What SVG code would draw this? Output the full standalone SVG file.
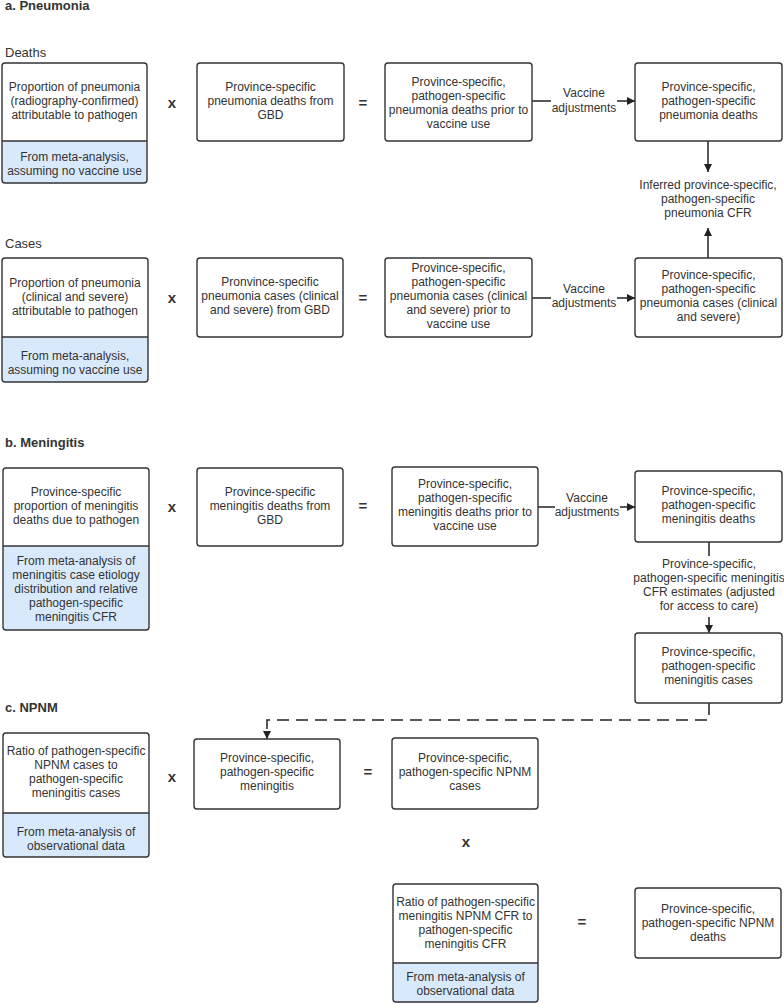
<svg xmlns="http://www.w3.org/2000/svg" width="784" height="1004" viewBox="0 0 784 1004">
<style>
text{font-family:"Liberation Sans",Arial,sans-serif;fill:#333}
.t{font-size:12px;text-anchor:middle}
.h{font-size:13px;font-weight:bold}
.s{font-size:13px}
.op{font-size:15px;font-weight:bold;text-anchor:middle}
.box{fill:#fff;stroke:#333;stroke-width:1.4}
.bg{fill:#fff}
.frame{fill:none;stroke:#333;stroke-width:1.4}
.blue{fill:#d9e9fc}
.div{stroke:#333;stroke-width:1.4}
.c{fill:none;stroke:#222;stroke-width:1.5}
.dash{stroke-dasharray:12 7}
</style>
<defs>
<marker id="ah" viewBox="0 0 10 10" refX="10" refY="5" markerWidth="9" markerHeight="8" markerUnits="userSpaceOnUse" orient="auto">
<path d="M0,0 L10,5 L0,10 z" fill="#222"/>
</marker>
</defs>
<rect width="784" height="1004" fill="#fff"/>

<text class="h" x="5" y="10">a. Pneumonia</text>
<text class="s" x="5" y="57">Deaths</text>
<text class="s" x="5" y="248">Cases</text>
<text class="h" x="5" y="447">b. Meningitis</text>
<text class="h" x="5" y="712">c. NPNM</text>

<g id="connectors">
<path class="c" d="M532,101 H551"/>
<path class="c" d="M617,101 H635" marker-end="url(#ah)"/>
<text class="t"><tspan x="584" y="97">Vaccine</tspan><tspan x="584" y="112">adjustments</tspan></text>
<path class="c" d="M708,141 V172" marker-end="url(#ah)"/>
<text class="t"><tspan x="708" y="189">Inferred province-specific,</tspan><tspan x="708" y="203">pathogen-specific</tspan><tspan x="708" y="217">pneumonia CFR</tspan></text>
<path class="c" d="M708,258 V228" marker-end="url(#ah)"/>
<path class="c" d="M532,298 H551"/>
<path class="c" d="M617,298 H635" marker-end="url(#ah)"/>
<text class="t"><tspan x="584" y="293">Vaccine</tspan><tspan x="584" y="307">adjustments</tspan></text>
<path class="c" d="M538,507 H555"/>
<path class="c" d="M620,507 H635" marker-end="url(#ah)"/>
<text class="t"><tspan x="587" y="502">Vaccine</tspan><tspan x="587" y="516">adjustments</tspan></text>
<path class="c" d="M709,542 V556"/>
<text class="t"><tspan x="709" y="568">Province-specific,</tspan><tspan x="709" y="582">pathogen-specific meningitis</tspan><tspan x="709" y="596">CFR estimates (adjusted</tspan><tspan x="709" y="610">for access to care)</tspan></text>
<path class="c" d="M709,617 V633" marker-end="url(#ah)"/>
<path class="c dash" d="M709,703 V720 H267 V739" marker-end="url(#ah)"/>
</g>

<g id="n1">
<rect class="bg" x="2" y="63" width="145" height="120" rx="3"/>
<path class="blue" d="M2,141 H147 V180 a3,3 0 0 1 -3,3 H5 a3,3 0 0 1 -3,-3 Z"/>
<line class="div" x1="2" y1="141" x2="147" y2="141"/>
<rect class="frame" x="2" y="63" width="145" height="120" rx="3"/>
<text class="t"><tspan x="74.5" y="91">Proportion of pneumonia</tspan><tspan x="74.5" y="105">(radiography-confirmed)</tspan><tspan x="74.5" y="119">attributable to pathogen</tspan></text>
<text class="t"><tspan x="74.5" y="161">From meta-analysis,</tspan><tspan x="74.5" y="175">assuming no vaccine use</tspan></text>
</g>
<text class="op" x="172" y="108">x</text>
<g id="n2">
<rect class="box" x="197" y="63" width="147" height="78" rx="3"/>
<text class="t"><tspan x="270.5" y="91">Province-specific</tspan><tspan x="270.5" y="105">pneumonia deaths from</tspan><tspan x="270.5" y="119">GBD</tspan></text>
</g>
<text class="op" x="363" y="108">=</text>
<g id="n3">
<rect class="box" x="385" y="63" width="147" height="78" rx="3"/>
<text class="t"><tspan x="458.5" y="86">Province-specific,</tspan><tspan x="458.5" y="100">pathogen-specific</tspan><tspan x="458.5" y="114">pneumonia deaths prior to</tspan><tspan x="458.5" y="128">vaccine use</tspan></text>
</g>
<g id="n4">
<rect class="box" x="635" y="63" width="147" height="78" rx="3"/>
<text class="t"><tspan x="708.5" y="91">Province-specific,</tspan><tspan x="708.5" y="105">pathogen-specific</tspan><tspan x="708.5" y="119">pneumonia deaths</tspan></text>
</g>

<g id="n5">
<rect class="bg" x="2" y="258" width="146" height="124" rx="3"/>
<path class="blue" d="M2,337 H148 V379 a3,3 0 0 1 -3,3 H5 a3,3 0 0 1 -3,-3 Z"/>
<line class="div" x1="2" y1="337" x2="148" y2="337"/>
<rect class="frame" x="2" y="258" width="146" height="124" rx="3"/>
<text class="t"><tspan x="75" y="287">Proportion of pneumonia</tspan><tspan x="75" y="301">(clinical and severe)</tspan><tspan x="75" y="315">attributable to pathogen</tspan></text>
<text class="t"><tspan x="75" y="360">From meta-analysis,</tspan><tspan x="75" y="374">assuming no vaccine use</tspan></text>
</g>
<text class="op" x="172" y="303">x</text>
<g id="n6">
<rect class="box" x="197" y="258" width="146" height="79" rx="3"/>
<text class="t"><tspan x="270" y="286">Pronvince-specific</tspan><tspan x="270" y="300">pneumonia cases (clinical</tspan><tspan x="270" y="314">and severe) from GBD</tspan></text>
</g>
<text class="op" x="363" y="303">=</text>
<g id="n7">
<rect class="box" x="385" y="258" width="147" height="79" rx="3"/>
<text class="t"><tspan x="458.5" y="272">Province-specific,</tspan><tspan x="458.5" y="286">pathogen-specific</tspan><tspan x="458.5" y="300">pneumonia cases (clinical</tspan><tspan x="458.5" y="314">and severe) prior to</tspan><tspan x="458.5" y="328">vaccine use</tspan></text>
</g>
<g id="n8">
<rect class="box" x="635" y="258" width="147" height="79" rx="3"/>
<text class="t"><tspan x="708.5" y="279">Province-specific,</tspan><tspan x="708.5" y="293">pathogen-specific</tspan><tspan x="708.5" y="307">pneumonia cases (clinical</tspan><tspan x="708.5" y="321">and severe)</tspan></text>
</g>

<g id="n9">
<rect class="bg" x="3" y="468" width="146" height="162" rx="3"/>
<path class="blue" d="M3,546 H149 V627 a3,3 0 0 1 -3,3 H6 a3,3 0 0 1 -3,-3 Z"/>
<line class="div" x1="3" y1="546" x2="149" y2="546"/>
<rect class="frame" x="3" y="468" width="146" height="162" rx="3"/>
<text class="t"><tspan x="76" y="496">Province-specific</tspan><tspan x="76" y="510">proportion of meningitis</tspan><tspan x="76" y="524">deaths due to pathogen</tspan></text>
<text class="t"><tspan x="76" y="565">From meta-analysis of</tspan><tspan x="76" y="579">meningitis case etiology</tspan><tspan x="76" y="593">distribution and relative</tspan><tspan x="76" y="607">pathogen-specific</tspan><tspan x="76" y="621">meningitis CFR</tspan></text>
</g>
<text class="op" x="172" y="512">x</text>
<g id="n10">
<rect class="box" x="197" y="468" width="146" height="78" rx="3"/>
<text class="t"><tspan x="270" y="496">Province-specific</tspan><tspan x="270" y="510">meningitis deaths from</tspan><tspan x="270" y="524">GBD</tspan></text>
</g>
<text class="op" x="363" y="511">=</text>
<g id="n11">
<rect class="box" x="392" y="467" width="146" height="79" rx="3"/>
<text class="t"><tspan x="465" y="488">Province-specific,</tspan><tspan x="465" y="502">pathogen-specific</tspan><tspan x="465" y="516">meningitis deaths prior to</tspan><tspan x="465" y="530">vaccine use</tspan></text>
</g>
<g id="n12">
<rect class="box" x="635" y="471" width="147" height="71" rx="3"/>
<text class="t"><tspan x="708.5" y="495">Province-specific,</tspan><tspan x="708.5" y="509">pathogen-specific</tspan><tspan x="708.5" y="523">meningitis deaths</tspan></text>
</g>
<g id="n13">
<rect class="box" x="635" y="633" width="147" height="70" rx="3"/>
<text class="t"><tspan x="708.5" y="656">Province-specific,</tspan><tspan x="708.5" y="670">pathogen-specific</tspan><tspan x="708.5" y="684">meningitis cases</tspan></text>
</g>

<g id="n14">
<rect class="bg" x="3" y="733" width="146" height="124" rx="3"/>
<path class="blue" d="M3,813 H149 V854 a3,3 0 0 1 -3,3 H6 a3,3 0 0 1 -3,-3 Z"/>
<line class="div" x1="3" y1="813" x2="149" y2="813"/>
<rect class="frame" x="3" y="733" width="146" height="124" rx="3"/>
<text class="t"><tspan x="76" y="755">Ratio of pathogen-specific</tspan><tspan x="76" y="769">NPNM cases to</tspan><tspan x="76" y="783">pathogen-specific</tspan><tspan x="76" y="797">meningitis cases</tspan></text>
<text class="t"><tspan x="76" y="836">From meta-analysis of</tspan><tspan x="76" y="850">observational data</tspan></text>
</g>
<text class="op" x="172" y="782">x</text>
<g id="n15">
<rect class="box" x="194" y="739" width="146" height="70" rx="3"/>
<text class="t"><tspan x="267" y="762">Province-specific,</tspan><tspan x="267" y="776">pathogen-specific</tspan><tspan x="267" y="790">meningitis</tspan></text>
</g>
<text class="op" x="368" y="777">=</text>
<g id="n16">
<rect class="box" x="392" y="738" width="146" height="71" rx="3"/>
<text class="t"><tspan x="465" y="762">Province-specific,</tspan><tspan x="465" y="776">pathogen-specific NPNM</tspan><tspan x="465" y="790">cases</tspan></text>
</g>
<text class="op" x="466" y="847">x</text>
<g id="n17">
<rect class="bg" x="393" y="884" width="145" height="118" rx="3"/>
<path class="blue" d="M393,963 H538 V999 a3,3 0 0 1 -3,3 H396 a3,3 0 0 1 -3,-3 Z"/>
<line class="div" x1="393" y1="963" x2="538" y2="963"/>
<rect class="frame" x="393" y="884" width="145" height="118" rx="3"/>
<text class="t"><tspan x="465.5" y="906">Ratio of pathogen-specific</tspan><tspan x="465.5" y="920">meningitis NPNM CFR to</tspan><tspan x="465.5" y="934">pathogen-specific</tspan><tspan x="465.5" y="948">meningitis CFR</tspan></text>
<text class="t"><tspan x="465.5" y="981">From meta-analysis of</tspan><tspan x="465.5" y="995">observational data</tspan></text>
</g>
<text class="op" x="582" y="927">=</text>
<g id="n18">
<rect class="box" x="635" y="888" width="146" height="70" rx="3"/>
<text class="t"><tspan x="708" y="913">Province-specific,</tspan><tspan x="708" y="927">pathogen-specific NPNM</tspan><tspan x="708" y="941">deaths</tspan></text>
</g>
</svg>
